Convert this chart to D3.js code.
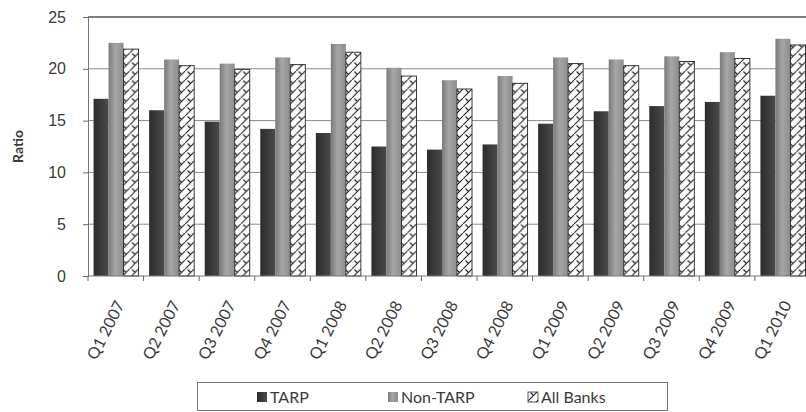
<!DOCTYPE html>
<html>
<head>
<meta charset="utf-8">
<script src="https://cdn.jsdelivr.net/npm/d3@7"></script>
<style>
  body { margin: 0; background: #fff; }
  svg { display: block; font-family: Lato, "Open Sans", sans-serif; }
  .axis text { fill: #3a3a3a; font-size: 16px; }
</style>
</head>
<body>
<svg id="chart" width="806" height="412"></svg>
<script>
// quarters on the x axis
const quarters = ['Q1 2007', 'Q2 2007', 'Q3 2007', 'Q4 2007', 'Q1 2008', 'Q2 2008', 'Q3 2008',
  'Q4 2008', 'Q1 2009', 'Q2 2009', 'Q3 2009', 'Q4 2009', 'Q1 2010'];
const seriesNames = ['TARP', 'Non-TARP', 'All Banks'];
const tarp    = [17.1, 16.0, 14.9, 14.2, 13.8, 12.5, 12.2, 12.7, 14.7, 15.9, 16.4, 16.8, 17.4];
const nonTarp = [22.5, 20.9, 20.5, 21.1, 22.4, 20.1, 18.9, 19.3, 21.1, 20.9, 21.2, 21.6, 22.9];
const allBanks = [21.9, 20.3, 19.95, 20.4, 21.6, 19.3, 18.05, 18.6, 20.5, 20.3, 20.7, 21.0, 22.3];
const yTicks = [0, 5, 10, 15, 20, 25];

const seriesValues = [tarp, nonTarp, allBanks];
const data = quarters.map((q, i) => ({
  quarter: q,
  values: seriesNames.map((s, j) => ({key: s, value: seriesValues[j][i]}))
}));

const margin = {top: 17, left: 88};
const plotWidth = 723, plotHeight = 259;

const svg = d3.select('#chart');
const defs = svg.append('defs');

// dark speckled fill for TARP
const gTarp = defs.append('linearGradient').attr('id', 'fillTarp');
gTarp.append('stop').attr('offset', '0%').attr('stop-color', '#2c2c2c');
gTarp.append('stop').attr('offset', '60%').attr('stop-color', '#3e3e3e');
gTarp.append('stop').attr('offset', '100%').attr('stop-color', '#4a4a4a');

// grey cylinder-ish fill for Non-TARP
const gNon = defs.append('linearGradient').attr('id', 'fillNon');
gNon.append('stop').attr('offset', '0%').attr('stop-color', '#7a7a7a');
gNon.append('stop').attr('offset', '45%').attr('stop-color', '#a6a6a6');
gNon.append('stop').attr('offset', '100%').attr('stop-color', '#8c8c8c');

// checkmark zigzag hatch for All Banks
const pat = defs.append('pattern')
    .attr('id', 'fillAll')
    .attr('patternUnits', 'userSpaceOnUse')
    .attr('width', 9).attr('height', 9);
pat.append('rect').attr('width', 9).attr('height', 9).attr('fill', '#fff');
pat.append('path')
    .attr('d', 'M-1,10 L10,-1 M2.5,0.5 L5.5,3.5')
    .attr('stroke', '#222').attr('stroke-width', 1.1).attr('fill', 'none');

const fills = {'TARP': 'url(#fillTarp)', 'Non-TARP': 'url(#fillNon)', 'All Banks': 'url(#fillAll)'};

const chart = svg.append('g')
    .attr('transform', `translate(${margin.left},${margin.top})`);

const x0 = d3.scaleBand()
    .domain(quarters)
    .range([0, plotWidth])
    .paddingInner(0.19)
    .paddingOuter(0.1);

const x1 = d3.scaleBand()
    .domain(seriesNames)
    .range([0, x0.bandwidth()]);

const y = d3.scaleLinear()
    .domain([0, 25])
    .range([plotHeight, 0]);

// gridlines
chart.append('g')
  .selectAll('line')
  .data(yTicks.filter(d => d > 0))
  .join('line')
    .attr('x1', 0)
    .attr('x2', plotWidth)
    .attr('y1', d => y(d))
    .attr('y2', d => y(d))
    .attr('stroke', d => d === 25 ? '#555' : '#8a8a8a')
    .attr('stroke-width', d => d === 25 ? 1.3 : 1);

// bars
const groups = chart.append('g')
  .selectAll('g')
  .data(data)
  .join('g')
    .attr('transform', d => `translate(${x0(d.quarter)},0)`);

groups.selectAll('rect')
  .data(d => d.values)
  .join('rect')
    .attr('x', d => x1(d.key))
    .attr('y', d => y(d.value))
    .attr('width', x1.bandwidth())
    .attr('height', d => plotHeight - y(d.value))
    .attr('fill', d => fills[d.key])
    .attr('stroke', d => d.key === 'All Banks' ? '#222' : 'none')
    .attr('stroke-width', 0.9);

// y axis
const yAxis = d3.axisLeft(y)
    .tickValues(yTicks)
    .tickSize(5)
    .tickPadding(17);

chart.append('g')
    .attr('class', 'axis y-axis')
    .call(yAxis)
    .call(g => g.selectAll('line').attr('stroke', '#666'))
    .call(g => g.select('.domain').attr('stroke', '#777'));

// x axis, ticks on category boundaries
const xAxisG = chart.append('g')
    .attr('class', 'axis x-axis')
    .attr('transform', `translate(0,${plotHeight})`);

xAxisG.append('line')
    .attr('x1', 0).attr('x2', plotWidth)
    .attr('stroke', '#777');

const step = x0.step();
xAxisG.selectAll('.tick-mark')
  .data(d3.range(quarters.length + 1))
  .join('line')
    .attr('class', 'tick-mark')
    .attr('x1', i => i * step)
    .attr('x2', i => i * step)
    .attr('y1', 0)
    .attr('y2', 5)
    .attr('stroke', '#666');

xAxisG.selectAll('.label')
  .data(quarters)
  .join('text')
    .attr('class', 'label')
    .attr('transform', d => `translate(${x0(d) + x0.bandwidth() / 2 + 4},${26}) rotate(-63)`)
    .attr('text-anchor', 'end')
    .attr('dy', '0.35em')
    .style('font-size', '16px')
    .text(d => d);

// y axis title
svg.append('text')
    .attr('transform', `translate(23,${margin.top + plotHeight / 2}) rotate(-90)`)
    .attr('text-anchor', 'middle')
    .style('font-size', '14px')
    .style('font-weight', 'bold')
    .attr('fill', '#3a3a3a')
    .text('Ratio');

// legend
const legend = svg.append('g');
legend.append('rect')
    .attr('x', 197.5).attr('y', 382.5)
    .attr('width', 470).attr('height', 28)
    .attr('fill', '#fff')
    .attr('stroke', '#777');

const legendX = {'TARP': 257, 'Non-TARP': 388, 'All Banks': 528};
const items = legend.selectAll('.item')
  .data(seriesNames)
  .join('g')
    .attr('class', 'item')
    .attr('transform', d => `translate(${legendX[d]},392)`);

items.append('rect')
    .attr('width', 10).attr('height', 10)
    .attr('fill', d => fills[d])
    .attr('stroke', d => d === 'All Banks' ? '#333' : 'none')
    .attr('stroke-width', 0.8);

items.append('text')
    .attr('x', 13)
    .attr('y', 5)
    .attr('dy', '0.36em')
    .style('font-size', '16px')
    .attr('fill', '#3a3a3a')
    .text(d => d);
</script>
</body>
</html>
